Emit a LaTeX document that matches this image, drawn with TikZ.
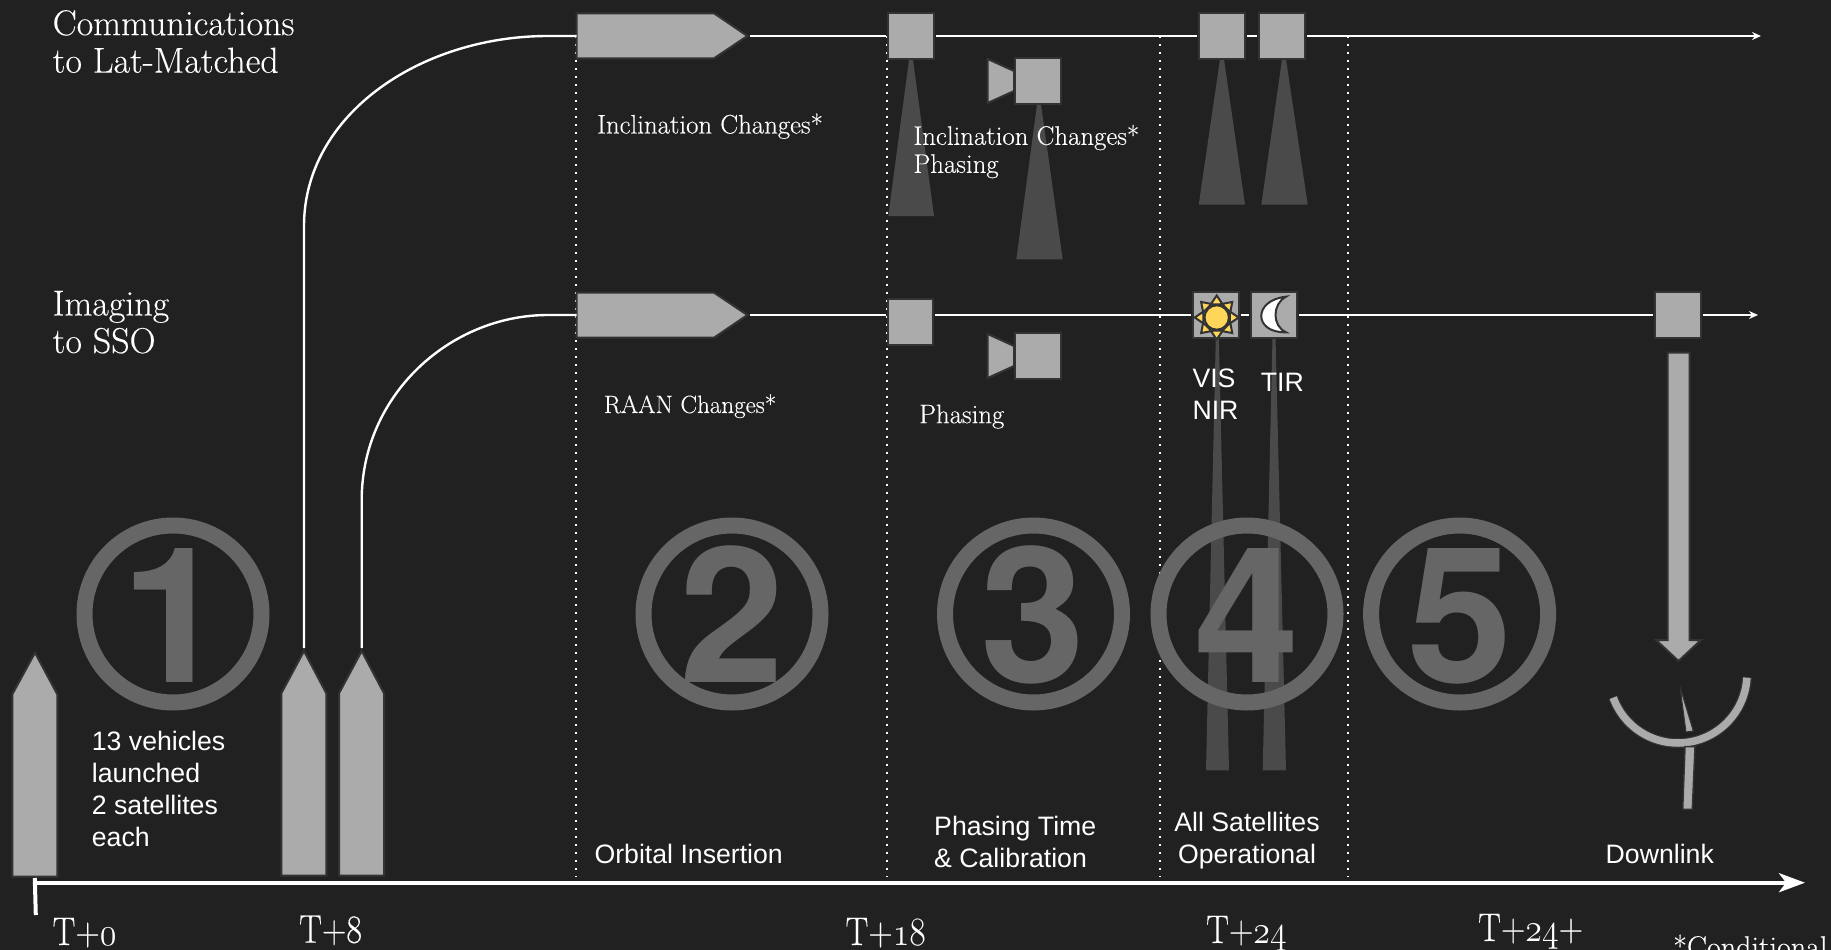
\RequirePackage{fix-cm}
\documentclass[tikz,border=0pt]{standalone}
\usepackage{fontspec}
\usepackage{graphicx}
\newfontfamily\arialf{Liberation Sans}
\newfontfamily\heavyf{TeX Gyre Heros}
\newfontfamily\serifn[FakeBold=0.25]{Latin Modern Roman}
\usetikzlibrary{arrows.meta,calc}
\definecolor{bg}{HTML}{212121}
\definecolor{shapeg}{HTML}{ABABAB}
\definecolor{edgeg}{HTML}{333333}
\definecolor{beamg}{HTML}{4A4A4A}
\definecolor{ringg}{HTML}{666666}
\definecolor{sunc}{HTML}{FFD55A}
\newcommand{\fsz}[2]{\fontsize{#1}{#2}\selectfont}
\newcommand{\osn}[1]{$\mathnormal{#1}$}
\newcommand{\ck}[1]{\scalebox{0.85}[1]{#1}}
\tikzset{
  rail/.style={draw=white,line width=2.4pt},
  dots/.style={draw=white,line width=2pt,dash pattern=on 2pt off 6pt},
  sat/.style={draw=edgeg,fill=shapeg,line width=2pt},
  satbox/.style={sat,rectangle,minimum width=45.5pt,minimum height=45.5pt,inner sep=0pt,outer sep=2pt},
  beam/.style={fill=beamg,draw=none},
  ring/.style={circle,draw=ringg,line width=16pt,minimum size=177pt,inner sep=0pt},
  bigdigit/.style={text=ringg,font=\heavyf\bfseries\fsz{189}{189},inner sep=0pt,anchor=base},
  lane/.style={text=white,font=\serifn\fsz{36}{37.5},inner sep=0pt,anchor=base west,align=left},
  note/.style={text=white,font=\serifn\fsz{26.8}{28},inner sep=0pt,anchor=base west,align=left},
  clock/.style={text=white,font=\serifn\fsz{40}{40},inner sep=0pt,anchor=base west},
  sans/.style={text=white,font=\arialf\fsz{26.67}{32},inner sep=0pt,anchor=base west,align=left},
}
\begin{document}
\begin{tikzpicture}[x=1pt,y=-1pt]
\path[use as bounding box,fill=bg] (0,0) rectangle (1831,950);

% dotted phase separators
\coordinate (d1t) at (576,36); \coordinate (d1b) at (576,877);
\coordinate (d2t) at (887,36); \coordinate (d2b) at (887,877);
\coordinate (d3t) at (1160.3,36); \coordinate (d3b) at (1160.3,877);
\coordinate (d4t) at (1348.4,36); \coordinate (d4b) at (1348.4,877);
\foreach \n in {1,2,3,4} \draw[dots] (d\n t) -- (d\n b);

% beams
\fill[beam] (909.5,56) -- (912.5,56) -- (934,216) -- (888.3,216) -- cycle;
\fill[beam] (1037.5,101) -- (1040.5,101) -- (1062.7,259.3) -- (1016.3,259.3) -- cycle;
\fill[beam] (1220.5,56) -- (1223.5,56) -- (1245,204.7) -- (1198.7,204.7) -- cycle;
\fill[beam] (1282.5,56) -- (1285.5,56) -- (1307.7,204.7) -- (1261.3,204.7) -- cycle;
\fill[beam] (1215.8,337) -- (1218.8,337) -- (1229,770.3) -- (1206,770.3) -- cycle;
\fill[beam] (1272.5,337) -- (1275.5,337) -- (1286,770.3) -- (1262.7,770.3) -- cycle;

% big numbers
\node[ring] (c1) at (173,614) {};
\node[ring] (c2) at (732,614) {};
\node[ring] (c3) at (1033.5,614) {};
\node[ring] (c4) at (1247,614) {};
\node[ring] (c5) at (1459.6,614) {};
\node[bigdigit] (n1) at (174,682) {1};
\node[bigdigit] (n2) at (732,682) {2};
\node[bigdigit] (n3) at (1033.5,682) {3};
\node[bigdigit] (n4) at (1247,682) {4};
\node[bigdigit] (n5) at (1459.6,682) {5};

% satellites on the upper lane
\draw[sat] (576.5,13.3) -- (714,13.3) -- (747.4,36) -- (714,58.3) -- (576.5,58.3) -- cycle;
\coordinate (a1w) at (576.5,36); \coordinate (a1e) at (749.5,36);
\node[satbox] (s1) at (911,36) {};
\node[satbox] (s2) at (1222,36) {};
\node[satbox] (s3) at (1282,36) {};
\node[satbox] (cam1) at (1038,81) {};
\draw[sat] (987.7,59) -- (1014,71) -- (1014,91) -- (987.7,103) -- cycle;

% satellites on the lower lane
\draw[sat] (576.5,292.7) -- (714,292.7) -- (747.4,315) -- (714,337.7) -- (576.5,337.7) -- cycle;
\coordinate (a2w) at (576.5,315); \coordinate (a2e) at (749.5,315);
\node[satbox] (s4) at (910.5,322) {};
\node[satbox] (s5) at (1216,315) {};
\node[satbox] (s6) at (1274,315) {};
\node[satbox] (s7) at (1678,315) {};
\node[satbox] (cam2) at (1038,356) {};
\draw[sat] (987.7,334) -- (1014,346) -- (1014,366) -- (987.7,378) -- cycle;

% rockets
\draw[sat] (35,652.7) -- (57.3,694.3) -- (57.3,876.7) -- (12.3,876.7) -- (12.3,694.3) -- cycle;
\draw[sat] (304,651) -- (326.3,693.3) -- (326.3,875.7) -- (281.3,875.7) -- (281.3,693.3) -- cycle;
\draw[sat] (361.7,651) -- (384,693.3) -- (384,875.7) -- (339,875.7) -- (339,693.3) -- cycle;
\coordinate (r2) at (304,648); \coordinate (r3) at (361.7,648);

% lanes
\draw[rail] (r2) -- (304,226) .. controls (304,115) and (420,36) .. (548,36) -- (a1w);
\draw[rail] (r3) -- (361.7,500) .. controls (361.7,395) and (450,315) .. (548,315) -- (a2w);
\coordinate (l1y) at (0,36); \coordinate (l2y) at (0,315);
\coordinate (e1) at (1761,36); \coordinate (e2) at (1758,315);
\draw[rail] (a1e) -- (a1e -| s1.west);
\draw[rail] (s1.east |- l1y) -- (s2.west |- l1y);
\draw[rail] (s2.east |- l1y) -- (s3.west |- l1y);
\draw[rail,-{Stealth[length=9pt,width=8pt]}] (s3.east |- l1y) -- (e1);
\draw[rail] (a2e) -- (a2e -| s4.west);
\draw[rail] (s4.east |- l2y) -- (s5.west |- l2y);
\draw[rail] (s5.east |- l2y) -- (s6.west |- l2y);
\draw[rail] (s6.east |- l2y) -- (s7.west |- l2y);
\draw[rail,-{Stealth[length=9pt,width=8pt]}] (s7.east |- l2y) -- (e2);

% sun
\begin{scope}[shift={(1216.7,317.5)}]
\foreach \a in {0,45,...,315}
  \draw[draw=edgeg,fill=sunc,line width=2pt,line join=miter] (\a:22) -- (\a+24:14.5) -- (\a-24:14.5) -- cycle;
\draw[draw=edgeg,fill=sunc,line width=2pt] (0,0) circle (12.2);
\end{scope}
% moon
\draw[draw=edgeg,fill=white,line width=2pt] (1286,296.7) .. controls (1253,300) and (1253,333) .. (1286,332.3) .. controls (1272,326) and (1272,304) .. (1286,296.7) -- cycle;

% downlink arrow
\draw[sat] (1667.5,352.6) -- (1689.7,352.6) -- (1689.7,640) -- (1701,640) -- (1678.5,661) -- (1656,640) -- (1667.5,640) -- cycle;

% ground station
\draw[edgeg,line width=10pt] plot[domain=3:160,samples=50] ({1678+69*cos(\x)},{674+69*sin(\x)});
\draw[shapeg,line width=7.5pt] plot[domain=3:160,samples=50] ({1678+69*cos(\x)},{674+69*sin(\x)});
\draw[fill=shapeg,draw=edgeg,line width=1pt] (1680,687) -- (1693.3,731) -- (1686,732) -- cycle;
\draw[fill=shapeg,draw=edgeg,line width=1.5pt] (1685,746.7) -- (1695,746.7) -- (1692.3,809.3) -- (1682.7,809.3) -- cycle;

% time axis
\coordinate (t0) at (36,882.7); \coordinate (tend) at (1805,882.7);
\coordinate (tk1) at (34.8,878); \coordinate (tk2) at (35.8,915);
\draw[white,line width=4pt] (tk1) -- (tk2);
\draw[white,line width=4pt,-{Stealth[length=26pt,width=19pt,inset=7pt]}] (t0) -- (tend);

% texts
\node[lane] (tl1) at (52.5,72.7) {Communications\\to Lat-Matched};
\node[lane] (tl2) at (52.5,353) {Imaging\\to SSO};
\node[note] (tn1) at (597,133.5) {Inclination Changes*};
\node[note,font=\serifn\fsz{25}{28}] (tn2) at (603.7,413) {RAAN Changes*};
\node[note] (tn3) at (913.3,172.8) {Inclination Changes*\\Phasing};
\node[note] (tn4) at (919,423.2) {Phasing};
\node[sans] (ts1) at (91.7,846.6) {13 vehicles\\launched\\2 satellites\\each};
\node[sans] (ts2) at (594.4,863) {Orbital Insertion};
\node[sans] (ts3) at (934,867.5) {Phasing Time\\\& Calibration};
\node[sans,align=center,anchor=base] (ts4) at (1247,863.2) {All Satellites\\Operational};
\node[sans] (ts5) at (1605.5,863.7) {Downlink};
\node[sans] (ts6) at (1192.3,419) {VIS\\NIR};
\node[sans] (ts7) at (1260.7,391.7) {TIR};
\node[clock] (k1) at (52.5,945) {\ck{T+\osn{0}}};
\node[clock] (k2) at (299,942.7) {\ck{T+8}};
\node[clock] (k3) at (845.4,945) {\ck{T+\osn{18}}};
\node[clock] (k4) at (1206,943) {\ck{T+\osn{24}}};
\node[clock] (k5) at (1478,941) {\ck{T+\osn{24}+}};
\node[note,font=\serifn\fsz{30}{30}] (k6) at (1673,957) {*Conditional};
\end{tikzpicture}
\end{document}
